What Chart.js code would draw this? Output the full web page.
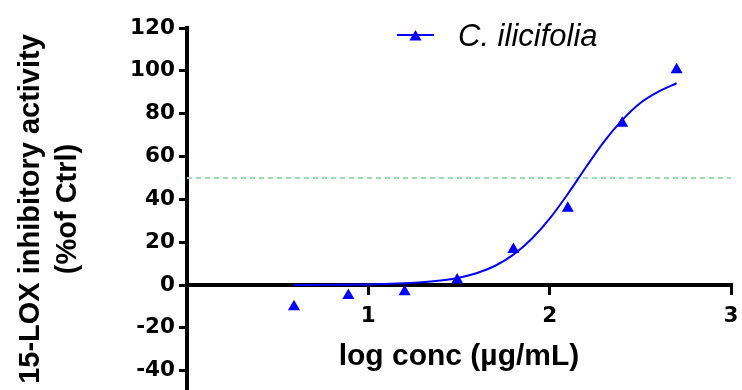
<!DOCTYPE html>
<html>
<head>
<meta charset="utf-8">
<script src="https://cdn.jsdelivr.net/npm/chart.js@4.4.0/dist/chart.umd.min.js"></script>
<style>
  html, body { margin: 0; padding: 0; background: #fff; }
</style>
</head>
<body>
<canvas id="chart" width="742" height="390"></canvas>
<script>
// measured points (log conc vs % inhibition)
var logConc = [0.59, 0.89, 1.20, 1.49, 1.80, 2.10, 2.40, 2.70];
var inhibition = [-10.1, -4.9, -3.1, 2.3, 16.6, 35.8, 75.5, 100.5];

// fitted curve
var fitX = [0.59, 0.8, 1.0, 1.2, 1.4, 1.5, 1.6, 1.7, 1.8, 1.9, 2.0, 2.1, 2.2, 2.3, 2.4, 2.5, 2.6, 2.7];
var fitY = [0.0, 0.1, 0.3, 0.8, 2.1, 3.4, 5.6, 9.0, 14.2, 21.5, 31.0, 42.5, 55.0, 67.0, 77.0, 85.0, 90.3, 94.2];

var halfLineX = [0, 3];
var halfLineY = [50, 50];

var yTicks = [-40, -20, 0, 20, 40, 60, 80, 100, 120];
var xTicks = [1, 2, 3];
var seriesName = 'C. ilicifolia';

var FONT = "'Liberation Sans', Arial, sans-serif";
var TICK_FONT = "'DejaVu Sans', sans-serif";

function toXY(xs, ys) {
    return xs.map(function (x, i) { return { x: x, y: ys[i] }; });
}

// legend sits inside the plot, like the original
var insideLegend = {
    id: 'insideLegend',
    afterDraw: function (chart) {
        var ds = chart.data.datasets[1];
        var ctx = chart.ctx;
        var x0 = 397, x1 = 434, y = 35;
        var cx = (x0 + x1) / 2, cy = 37, r = 7;
        ctx.save();
        ctx.strokeStyle = ds.borderColor;
        ctx.lineWidth = 2;
        ctx.beginPath();
        ctx.moveTo(x0, y);
        ctx.lineTo(x1, y);
        ctx.stroke();
        ctx.fillStyle = ds.backgroundColor;
        ctx.beginPath();
        ctx.moveTo(cx, cy - r);
        ctx.lineTo(cx + r * 0.866, cy + r / 2);
        ctx.lineTo(cx - r * 0.866, cy + r / 2);
        ctx.closePath();
        ctx.fill();
        ctx.fillStyle = '#000';
        ctx.font = 'italic 31px ' + FONT;
        ctx.textBaseline = 'alphabetic';
        ctx.textAlign = 'left';
        ctx.fillText(ds.label, 458, 46);
        ctx.restore();
    }
};

new Chart(document.getElementById('chart').getContext('2d'), {
    type: 'line',
    data: {
        datasets: [
            {
                label: 'fit',
                data: toXY(fitX, fitY),
                borderColor: '#0000ff',
                borderWidth: 2,
                pointRadius: 0,
                cubicInterpolationMode: 'monotone',
                order: 2
            },
            {
                label: seriesName,
                data: toXY(logConc, inhibition),
                showLine: false,
                pointStyle: 'triangle',
                pointRadius: 7,
                pointBorderWidth: 0,
                borderColor: '#0000ff',
                backgroundColor: '#0000ff',
                order: 1
            },
            {
                label: '50%',
                data: toXY(halfLineX, halfLineY),
                borderColor: '#a0dcb2',
                borderWidth: 2,
                borderDash: [5, 4],
                pointRadius: 0,
                order: 3
            }
        ]
    },
    options: {
        responsive: false,
        animation: false,
        devicePixelRatio: 1,
        layout: { autoPadding: false, padding: { left: 0, right: 11, top: 28, bottom: 0 } },
        plugins: {
            legend: { display: false },
            tooltip: { enabled: false }
        },
        scales: {
            x: {
                type: 'linear',
                min: 0,
                max: 3,
                position: { y: 0 },
                afterBuildTicks: function (scale) {
                    scale.ticks = xTicks.map(function (v) { return { value: v }; });
                },
                afterFit: function (scale) {
                    scale.paddingLeft = 0;
                    scale.paddingRight = 0;
                    scale.paddingTop = 0;
                    scale.paddingBottom = 0;
                },
                grid: { drawOnChartArea: false, drawTicks: true, tickLength: 8, color: '#000', lineWidth: 3 },
                border: { color: '#000', width: 4 },
                ticks: { color: '#000', padding: 10, font: { family: TICK_FONT, size: 21.5, weight: 'bold' } },
                title: {
                    display: true,
                    text: 'log conc (µg/mL)',
                    color: '#000',
                    font: { family: FONT, size: 30, weight: 'bold' },
                    padding: { top: 0, bottom: 0 }
                }
            },
            y: {
                type: 'linear',
                min: -49,
                max: 120,
                position: 'left',
                afterBuildTicks: function (scale) {
                    scale.ticks = yTicks.map(function (v) { return { value: v }; });
                },
                afterFit: function (scale) {
                    scale.width = 187;
                    scale.paddingTop = 0;
                    scale.paddingBottom = 0;
                },
                grid: { drawOnChartArea: false, drawTicks: true, tickLength: 8, color: '#000', lineWidth: 3 },
                border: { color: '#000', width: 4 },
                ticks: { color: '#000', padding: 4, font: { family: TICK_FONT, size: 21.5, weight: 'bold' } },
                title: {
                    display: true,
                    text: ['15-LOX inhibitory activity', '(%of Ctrl)'],
                    color: '#000',
                    font: { family: FONT, size: 29, weight: 'bold', lineHeight: 1.27 },
                    padding: { top: 13, bottom: 0 }
                }
            }
        }
    },
    plugins: [insideLegend]
});
</script>
</body>
</html>
